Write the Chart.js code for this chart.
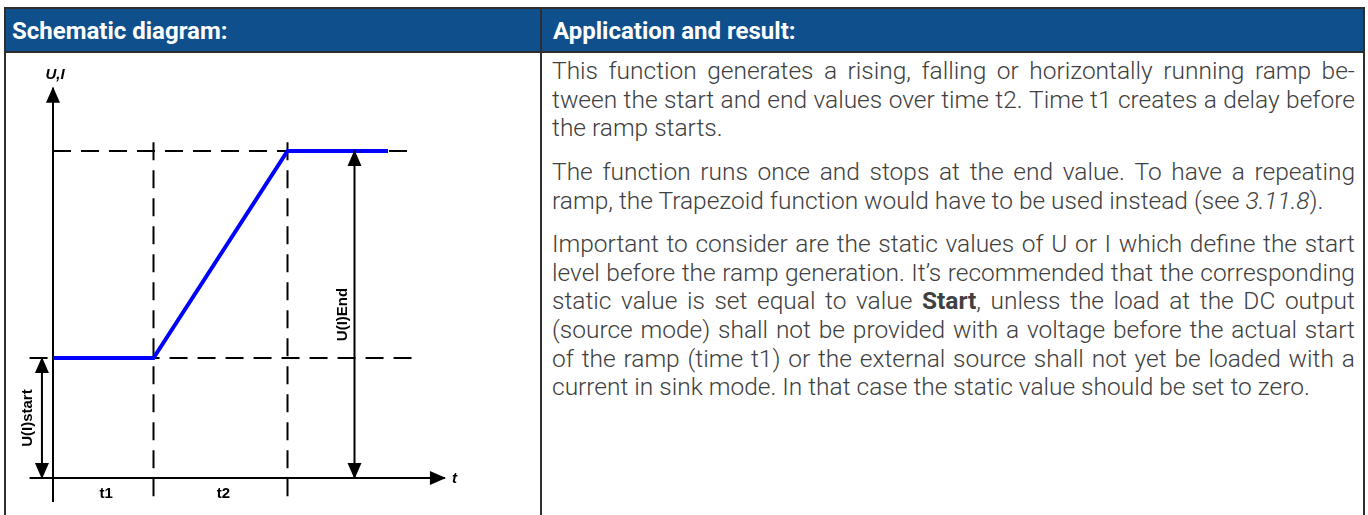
<!DOCTYPE html>
<html>
<head>
<meta charset="utf-8">
<script src="https://cdn.jsdelivr.net/npm/chart.js@4.4.0/dist/chart.umd.min.js"></script>
<style>
  html, body { margin: 0; padding: 0; background: #fff; }
  body { width: 1368px; height: 515px; overflow: hidden; position: relative; }
  .frame { position: absolute; left: 4px; top: 7px; width: 1357px; height: 540px; border: 2px solid #2e2e2e; }
  .head { position: absolute; left: 0; top: 0; width: 1357px; height: 42px; background: #0f4f8c; border-bottom: 2px solid #2e2e2e; }
  .head span { position: absolute; top: 1px; font: 700 24px Roboto, "Liberation Sans", sans-serif; line-height: 42px; color: #fff; }
  .divider { position: absolute; left: 534px; top: 0; width: 2px; height: 540px; background: #2e2e2e; }
  #chartBox { position: absolute; left: 6px; top: 53px; width: 534px; height: 462px; }
  #text { position: absolute; left: 552px; top: 57px; width: 803px; font: 300 24.5px Roboto, sans-serif; line-height: 28.7px; color: #404040; }
  #text b { font-weight: 700; }
  .para { margin-bottom: 14.7px; }
  .line { white-space: nowrap; }
  .just { display: flex; justify-content: space-between; }
</style>
</head>
<body>
<div class="frame">
  <div class="head">
    <span style="left:6px">Schematic diagram:</span>
    <span style="left:547px">Application and result:</span>
  </div>
  <div class="divider"></div>
</div>
<div id="chartBox"><canvas id="ramp" width="534" height="462"></canvas></div>
<div id="text"></div>

<script>
// ramp timing (arbitrary time units) and levels (arbitrary U/I units)
const timeMarks = [0, 3, 7, 10];        // start, end of t1, end of t2, end of drawn hold
const rampLevels = [1.1, 1.1, 3.0, 3.0];
const startLevel = 1.1;
const endLevel = 3.0;
const phaseLabels = ["t1", "t2"];
const levelLabels = ["U(I)start", "U(I)End"];
const axisLabels = ["U,I", "t"];

// extents of the helper lines, same units as above
const axisBottom = -0.22;
const axisTop = 3.58;
const axisLeft = -0.7;
const axisRight = 11.7;
const dashTop = 3.08;
const startDashEnd = 10.8;
const endDashEnd = 10.6;
const endArrowAt = 9;
const startArrowAt = -0.33;

const paragraphs = [
  ["This function generates a rising, falling or horizontally running ramp be-",
   "tween the start and end values over time t2. Time t1 creates a delay before",
   "the ramp starts."],
  ["The function runs once and stops at the end value. To have a repeating",
   "ramp, the Trapezoid function would have to be used instead (see <i>3.11.8</i>)."],
  ["Important to consider are the static values of U or I which define the start",
   "level before the ramp generation. It’s recommended that the corresponding",
   "static value is set equal to value <b>Start</b>, unless the load at the DC output",
   "(source mode) shall not be provided with a voltage before the actual start",
   "of the ramp (time t1) or the external source shall not yet be loaded with a",
   "current in sink mode. In that case the static value should be set to zero."]
];

// justified text column, one div per printed line
const textBox = document.getElementById("text");
paragraphs.forEach(lines => {
  const p = document.createElement("div");
  p.className = "para";
  lines.forEach((line, i) => {
    const d = document.createElement("div");
    if (i < lines.length - 1) {
      d.className = "line just";
      d.innerHTML = line.split(" ").map(w => "<span>" + w + "</span>").join("");
    } else {
      d.className = "line";
      d.innerHTML = line;
    }
    p.appendChild(d);
  });
  textBox.appendChild(p);
});

const pts = (xs, ys) => xs.map((x, i) => ({ x: x, y: ys[i] }));
const dash = [18, 10];

// draws triangle heads on the ends of datasets that ask for them
const arrowHeads = {
  id: "arrowHeads",
  afterDatasetsDraw(chart) {
    const ctx = chart.ctx;
    chart.data.datasets.forEach((ds, i) => {
      if (!ds.arrows) return;
      const el = chart.getDatasetMeta(i).data;
      const ends = [];
      if (ds.arrows.includes("start")) ends.push([el[1], el[0]]);
      if (ds.arrows.includes("end")) ends.push([el[el.length - 2], el[el.length - 1]]);
      ends.forEach(([from, to]) => {
        const ang = Math.atan2(to.y - from.y, to.x - from.x);
        ctx.save();
        ctx.translate(to.x, to.y);
        ctx.rotate(ang);
        ctx.beginPath();
        ctx.moveTo(1, 0);
        ctx.lineTo(-15, -7);
        ctx.lineTo(-15, 7);
        ctx.closePath();
        ctx.fillStyle = "#000";
        ctx.fill();
        ctx.restore();
      });
    });
  }
};

const diagramText = {
  id: "diagramText",
  afterDraw(chart) {
    const ctx = chart.ctx;
    const x = chart.scales.x, y = chart.scales.y;
    ctx.save();
    ctx.fillStyle = "#000";
    ctx.textAlign = "center";
    ctx.textBaseline = "middle";

    ctx.font = "italic bold 15px 'Liberation Sans', Arial, sans-serif";
    ctx.fillText(axisLabels[0], x.getPixelForValue(0) + 2, y.getPixelForValue(axisTop) - 13);
    ctx.textAlign = "left";
    ctx.fillText(axisLabels[1], x.getPixelForValue(axisRight) + 7, y.getPixelForValue(0) + 1);

    ctx.textAlign = "center";
    ctx.font = "bold 15px 'Liberation Sans', Arial, sans-serif";
    phaseLabels.forEach((lab, i) => {
      const cx = (x.getPixelForValue(timeMarks[i]) + x.getPixelForValue(timeMarks[i + 1])) / 2 + 3;
      ctx.fillText(lab, cx, y.getPixelForValue(0) + 16);
    });

    const vLabel = (txt, px, py) => {
      ctx.save();
      ctx.translate(px, py);
      ctx.rotate(-Math.PI / 2);
      ctx.fillText(txt, 0, 0);
      ctx.restore();
    };
    vLabel(levelLabels[0], x.getPixelForValue(startArrowAt) - 14,
      (y.getPixelForValue(0) + y.getPixelForValue(startLevel)) / 2);
    vLabel(levelLabels[1], x.getPixelForValue(endArrowAt) - 12,
      (y.getPixelForValue(0) + y.getPixelForValue(endLevel)) / 2);
    ctx.restore();
  }
};

const black = { borderColor: "#000", borderWidth: 2, pointRadius: 0, showLine: true, clip: false };

new Chart(document.getElementById("ramp"), {
  type: "scatter",
  data: {
    datasets: [
      { label: "ramp", data: pts(timeMarks, rampLevels), borderColor: "#0000ff", borderWidth: 4,
        pointRadius: 0, showLine: true, clip: false, borderJoinStyle: "miter" },
      { ...black, label: "start level", data: pts([axisLeft, startDashEnd], [startLevel, startLevel]), borderDash: dash },
      { ...black, label: "end level", data: pts([0, endDashEnd], [endLevel, endLevel]), borderDash: dash },
      { ...black, label: "t1 end", data: pts([timeMarks[1], timeMarks[1]], [dashTop, axisBottom]), borderDash: dash },
      { ...black, label: "t2 end", data: pts([timeMarks[2], timeMarks[2]], [dashTop, axisBottom]), borderDash: dash },
      { ...black, label: "U,I axis", data: pts([0, 0], [axisBottom, axisTop]), arrows: ["end"] },
      { ...black, label: "t axis", data: pts([axisLeft, axisRight], [0, 0]), arrows: ["end"] },
      { ...black, label: "end span", data: pts([endArrowAt, endArrowAt], [0, endLevel]), arrows: ["start", "end"] },
      { ...black, label: "start span", data: pts([startArrowAt, startArrowAt], [0, startLevel]), arrows: ["start", "end"] }
    ]
  },
  options: {
    responsive: false,
    animation: false,
    layout: { padding: { left: 13.5, right: 51.5, top: 21.7, bottom: 15.2 } },
    plugins: { legend: { display: false }, tooltip: { enabled: false } },
    scales: {
      x: { type: "linear", display: false, min: -1, max: 13 },
      y: { type: "linear", display: false, min: -0.2, max: 3.7 }
    }
  },
  plugins: [arrowHeads, diagramText]
});
</script>
</body>
</html>
